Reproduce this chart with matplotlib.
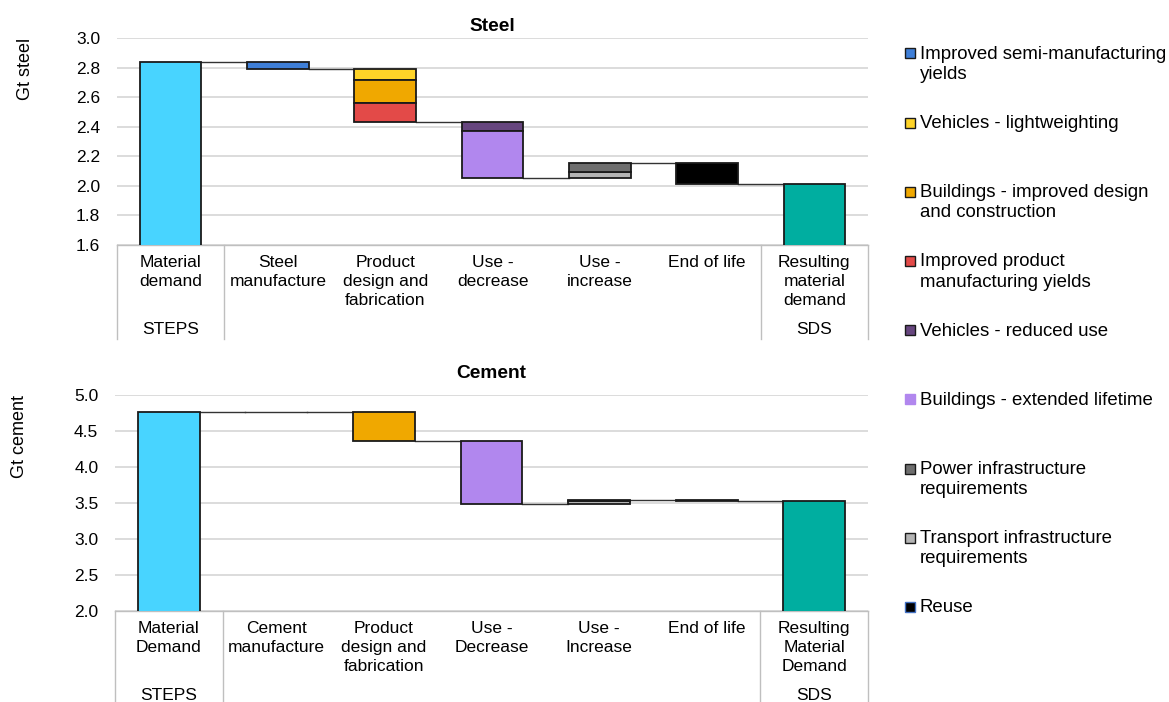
import matplotlib.pyplot as plt
from matplotlib.patches import Rectangle

plt.rcParams['font.family'] = ['Liberation Sans', 'DejaVu Sans']
plt.rcParams['font.size'] = 12.5

# levers (legend order) and the stage each one belongs to
lever_labels = ['Improved semi-manufacturing\nyields', 'Vehicles - lightweighting',
                'Buildings - improved design\nand construction', 'Improved product\nmanufacturing yields',
                'Vehicles - reduced use', 'Buildings - extended lifetime',
                'Power infrastructure\nrequirements', 'Transport infrastructure\nrequirements', 'Reuse']
lever_colors = ['#3F7FD8', '#FFD428', '#F0A800', '#E34A48', '#67467F',
                '#B187EE', '#6E6E6E', '#B4B4B4', '#000000']
lever_stage = [1, 2, 2, 2, 3, 3, 4, 4, 5]
stack_order = [0, 1, 2, 3, 4, 5, 7, 6, 8]  # transport sits below power

steel_start = 2.835
steel_changes = [-0.045, -0.072, -0.160, -0.124, -0.061, -0.323, 0.061, 0.041, -0.140]
cement_start = 4.76
cement_changes = [0, 0, -0.40, 0, 0, -0.88, 0.015, 0.045, -0.01]

steel_stages = ['Material\ndemand', 'Steel\nmanufacture', 'Product\ndesign and\nfabrication',
                'Use -\ndecrease', 'Use -\nincrease', 'End of life', 'Resulting\nmaterial\ndemand']
cement_stages = ['Material\nDemand', 'Cement\nmanufacture', 'Product\ndesign and\nfabrication',
                 'Use -\nDecrease', 'Use -\nIncrease', 'End of life', 'Resulting\nMaterial\nDemand']
scenarios = ['STEPS', 'SDS']

start_color = '#48D4FF'
end_color = '#00AEA0'
edge = '#1A1A1A'
W, H = 1169, 702


def px_axes(left, top, right, bottom):
    return [left / W, 1 - bottom / H, (right - left) / W, (bottom - top) / H]


def waterfall(ax, start, changes, stages, ylim, yticks, fmt, title, tpad, sep_frac):
    w = 0.575
    ax.bar(0, start, w, color=start_color, edgecolor=edge, lw=1.3, zorder=3)
    level = start
    levels = [start]
    for stage in range(1, 6):
        drawn = False
        for k in stack_order:
            if lever_stage[k] != stage or changes[k] == 0:
                continue
            d = changes[k]
            bottom = level + d if d < 0 else level
            ax.bar(stage, abs(d), w, bottom=bottom, color=lever_colors[k],
                   edgecolor=edge, lw=1.3, zorder=3)
            level += d
            drawn = True
        if not drawn:
            ax.plot([stage - w / 2, stage + w / 2], [level, level], color='#333333', lw=1, zorder=2)
        levels.append(level)
    ax.bar(6, level, w, color=end_color, edgecolor=edge, lw=1.3, zorder=3)
    for i in range(6):
        ax.plot([i + w / 2, i + 1 - w / 2], [levels[i], levels[i]], color='#333333', lw=1, zorder=2)

    ax.set_xlim(-0.5, 6.5)
    ax.set_ylim(*ylim)
    ax.set_yticks(yticks, [fmt.format(v) for v in yticks])
    ax.yaxis.grid(True, color='#D9D9D9', lw=1.3)
    ax.set_axisbelow(True)
    for s in ['top', 'right', 'left']:
        ax.spines[s].set_visible(False)
    ax.spines['bottom'].set_color('#BFBFBF')
    ax.spines['bottom'].set_linewidth(1)
    ax.set_xticks(range(7), stages)
    for t in ax.get_xticklabels():
        t.set_linespacing(1.35)
    ax.tick_params(axis='x', length=0, pad=7)
    ax.tick_params(axis='y', length=0, pad=12)
    ax.set_title(title, fontweight='bold', fontsize=13.8, pad=tpad)

    trans = ax.get_xaxis_transform()
    for x in [-0.5, 0.5, 5.5, 6.5]:
        ax.plot([x, x], [0, -sep_frac], transform=trans, clip_on=False, color='#BFBFBF', lw=1)
    for x, s in zip([0, 6], scenarios):
        ax.annotate(s, xy=(x, 0), xycoords=trans, xytext=(0, -61), textcoords='offset points',
                    ha='center', va='center')


fig = plt.figure(figsize=(11.69, 7.02), dpi=100)
ax1 = fig.add_axes(px_axes(117, 38, 868, 245))
ax2 = fig.add_axes(px_axes(115, 394.7, 868, 611))

waterfall(ax1, steel_start, steel_changes, steel_stages, (1.6, 3.0),
          [1.6, 1.8, 2.0, 2.2, 2.4, 2.6, 2.8, 3.0], '{:.1f}', 'Steel', 5, 94 / 207)
waterfall(ax2, cement_start, cement_changes, cement_stages, (2.0, 5.0),
          [2.0, 2.5, 3.0, 3.5, 4.0, 4.5, 5.0], '{:.1f}', 'Cement', 12, 91 / 216.3)

fig.text(25 / W, 1 - 69 / H, 'Gt steel', rotation=90, ha='center', va='center', fontsize=13)
fig.text(20 / W, 1 - 436 / H, 'Gt cement', rotation=90, ha='center', va='center', fontsize=13)

# legend drawn by hand so the marker lines up with the first text line
for i, (lab, col) in enumerate(zip(lever_labels, lever_colors)):
    yc = 53.3 + 69.2 * i
    ec = edge
    if i == 5:
        ec = col
    if i == 8:
        ec = '#4472C4'
    fig.patches.append(Rectangle((905 / W, 1 - (yc + 5) / H), 10 / W, 10 / H,
                                 transform=fig.transFigure, facecolor=col, edgecolor=ec, lw=1))
    fig.text(919.5 / W, 1 - (yc - 7.5) / H, lab, ha='left', va='top', fontsize=13.4,
             linespacing=1.24)

fig.savefig('out.png', dpi=100)
